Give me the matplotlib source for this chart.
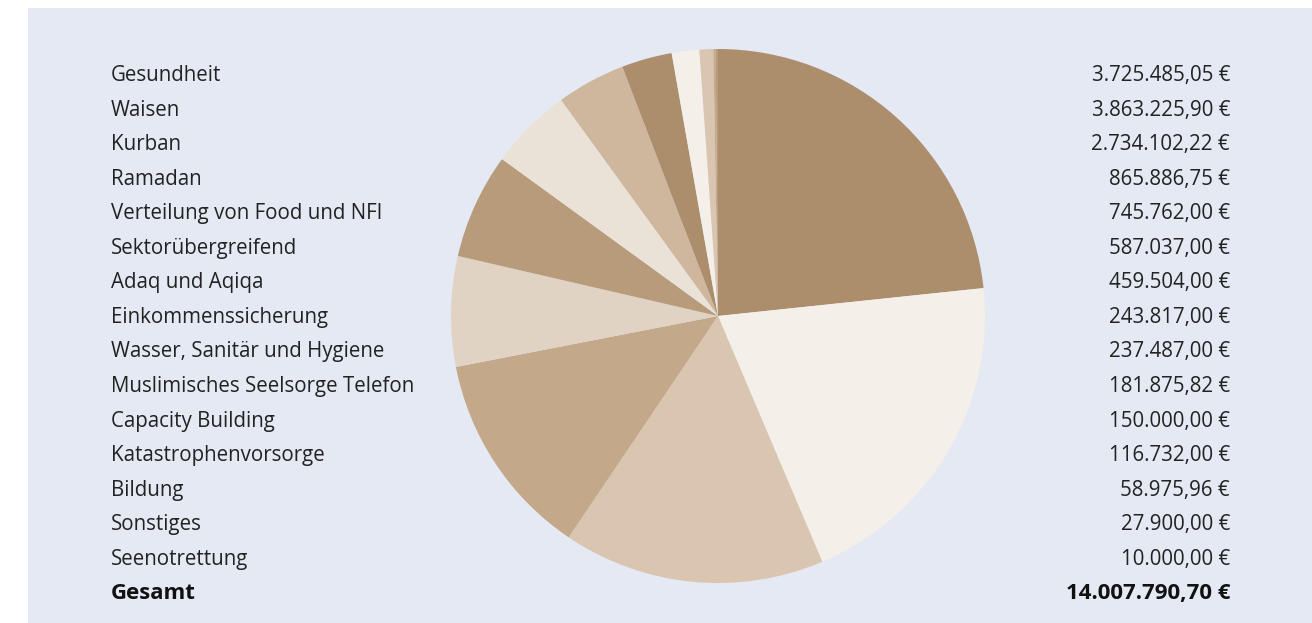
import matplotlib.pyplot as plt
from matplotlib.patches import Rectangle

# table on both sides
categories = ["Gesundheit", "Waisen", "Kurban", "Ramadan",
              "Verteilung von Food und NFI", "Sektorübergreifend",
              "Adaq und Aqiqa", "Einkommenssicherung",
              "Wasser, Sanitär und Hygiene", "Muslimisches Seelsorge Telefon",
              "Capacity Building", "Katastrophenvorsorge", "Bildung",
              "Sonstiges", "Seenotrettung"]
amounts = ["3.725.485,05 €", "3.863.225,90 €", "2.734.102,22 €", "865.886,75 €",
           "745.762,00 €", "587.037,00 €", "459.504,00 €", "243.817,00 €",
           "237.487,00 €", "181.875,82 €", "150.000,00 €", "116.732,00 €",
           "58.975,96 €", "27.900,00 €", "10.000,00 €"]
total_label = "Gesamt"
total_amount = "14.007.790,70 €"

# pie slice shares (degrees)
pie_shares = [84, 73, 57, 45, 24, 23, 18, 15, 11, 6, 3, 0.5, 0.5]
pie_colors = ["#ad8e6c", "#f4efe9", "#d9c5b0", "#c4a88a", "#e1d3c3", "#b89b7b",
              "#ebe2d7", "#cfb79d", "#ad8e6c", "#f4efe9", "#d9c5b0", "#c4a88a",
              "#b89b7b"]

W, H = 1312, 623
fig = plt.figure(figsize=(W / 100, H / 100), dpi=100)
fig.patch.set_facecolor("white")

# background panel
fig.patches.append(Rectangle((28 / W, 0), 1 - 28 / W, 1 - 8 / H,
                             transform=fig.transFigure, facecolor="#e5e9f4",
                             edgecolor="none", zorder=-10))

# pie: center (718,316), radius 267 px
r = 267
ax = fig.add_axes([(718 - r) / W, (H - 316 - r) / H, 2 * r / W, 2 * r / H])
ax.set_zorder(5)
ax.pie(pie_shares, colors=pie_colors, startangle=90, counterclock=False,
       wedgeprops=dict(linewidth=0))
ax.set_xlim(-1, 1)
ax.set_ylim(-1, 1)
ax.set_aspect("equal")
ax.axis("off")

font = "Open Sans"
fs = 14.8
fs_bold = 16
y0, step = 75.5, 34.55
for i, (c, a) in enumerate(zip(categories, amounts)):
    y = 1 - (y0 + i * step) / H
    fig.text(111 / W, y, c, ha="left", va="center", fontsize=fs,
             family=font, color="#222222")
    fig.text(1230 / W, y, a, ha="right", va="center", fontsize=fs,
             family=font, color="#222222")
y = 1 - (y0 + len(categories) * step) / H
fig.text(111 / W, y, total_label, ha="left", va="center", fontsize=fs_bold,
         family=font, weight="bold", color="#111111")
fig.text(1230 / W, y, total_amount, ha="right", va="center", fontsize=fs_bold,
         family=font, weight="bold", color="#111111")

fig.savefig("out.png", dpi=100)
